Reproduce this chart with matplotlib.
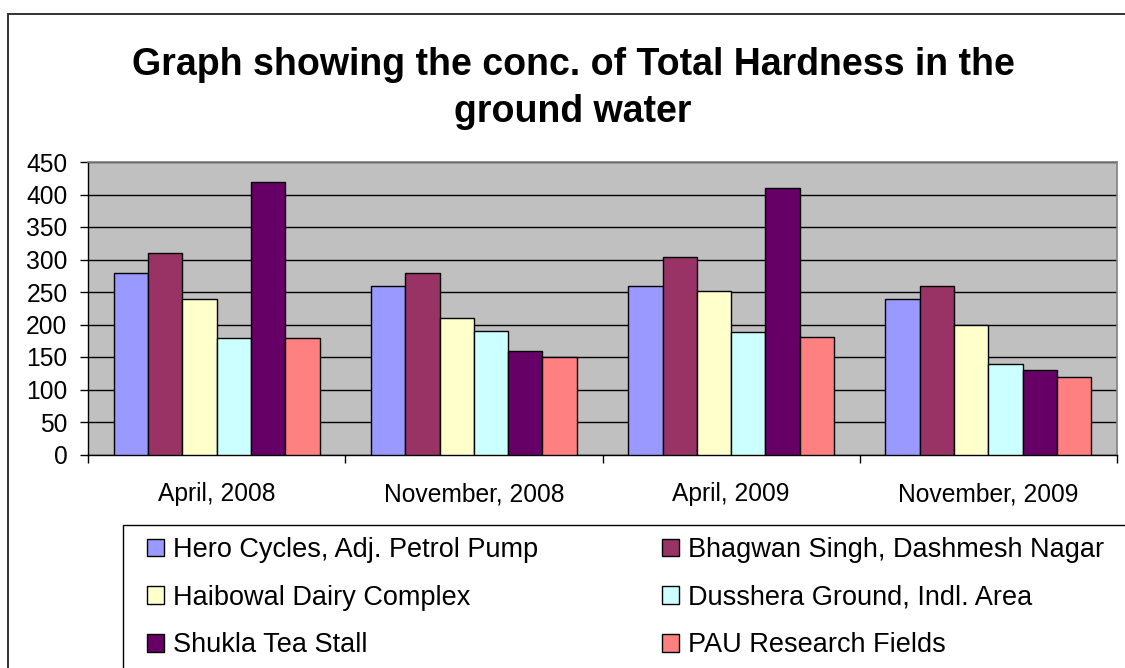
import matplotlib
matplotlib.use("Agg")
import matplotlib.pyplot as plt
from matplotlib.patches import Rectangle
import numpy as np

plt.rcParams['font.family'] = ['Liberation Sans', 'DejaVu Sans']

categories = ["April, 2008", "November, 2008", "April, 2009", "November, 2009"]
series_names = ["Hero Cycles, Adj. Petrol Pump", "Bhagwan Singh, Dashmesh Nagar",
                "Haibowal Dairy Complex", "Dusshera Ground, Indl. Area",
                "Shukla Tea Stall", "PAU Research Fields"]
hero = [280, 260, 260, 240]
bhagwan = [310, 280, 304, 260]
haibowal = [240, 210, 252, 200]
dusshera = [180, 190, 188, 140]
shukla = [420, 160, 410, 130]
pau = [180, 150, 181, 120]
series_values = [hero, bhagwan, haibowal, dusshera, shukla, pau]
colors = ["#9999FF", "#993366", "#FFFFCC", "#CCFFFF", "#660066", "#FF8080"]
yticks = list(range(0, 451, 50))

W, H = 1125, 668
fig = plt.figure(figsize=(W / 100, H / 100), dpi=100)

def fx(px):
    return px / W

def fy(py):
    return 1 - py / H

ax = fig.add_axes([fx(88), fy(454.5), fx(1117) - fx(88), fy(162) - fy(454.5)])
ax.set_facecolor("#C0C0C0")

n = len(series_values)
bw = 1 / 7.5
x = np.arange(len(categories))
handles = []
for i, (vals, c, name) in enumerate(zip(series_values, colors, series_names)):
    b = ax.bar(x + (i - (n - 1) / 2) * bw, vals, width=bw, color=c,
               edgecolor="black", linewidth=1.0, label=name, zorder=3)
    handles.append(b)

ax.set_xlim(-0.5, len(categories) - 0.5)
ax.set_ylim(0, 450)
ax.set_yticks(yticks)
ax.yaxis.grid(True, color="black", linewidth=1.0, zorder=1)
ax.set_axisbelow(True)

ax.set_xticks(x)
ax.set_xticklabels(categories, fontsize=17.7)
ax.set_xticks(np.arange(-0.5, len(categories), 1.0), minor=True)
ax.tick_params(axis="x", which="major", length=0, pad=20)
ax.tick_params(axis="x", which="minor", length=5.5, width=1, direction="out")
ax.tick_params(axis="y", length=5.8, width=1, direction="out", pad=9, labelsize=17.7)

for s in ["top", "right"]:
    ax.spines[s].set_color("#808080")
    ax.spines[s].set_linewidth(1.2)
for s in ["left", "bottom"]:
    ax.spines[s].set_color("black")
    ax.spines[s].set_linewidth(1.0)

fig.text(fx(573), fy(88.5), "Graph showing the conc. of Total Hardness in the\nground water",
         ha="center", va="center", fontsize=27, fontweight="bold", linespacing=1.4)

order = [0, 2, 4, 1, 3, 5]
fig.legend([handles[i] for i in order], [series_names[i] for i in order],
           ncol=2, frameon=False, loc="upper left",
           bbox_to_anchor=(fx(147), fy(537)), borderaxespad=0, borderpad=0,
           fontsize=19.5, handlelength=0.63, handleheight=0.63,
           handletextpad=0.33, columnspacing=4.56, labelspacing=0.8)

fig.patches.append(Rectangle((fx(123), fy(700)), fx(1140) - fx(123), fy(525) - fy(700),
                             transform=fig.transFigure, fill=False,
                             edgecolor="black", linewidth=1.0, zorder=0))
fig.patches.append(Rectangle((fx(8), fy(700)), fx(1140) - fx(8), fy(14) - fy(700),
                             transform=fig.transFigure, fill=False,
                             edgecolor="#333333", linewidth=1.4, zorder=0))

fig.savefig("out.png", dpi=100)
